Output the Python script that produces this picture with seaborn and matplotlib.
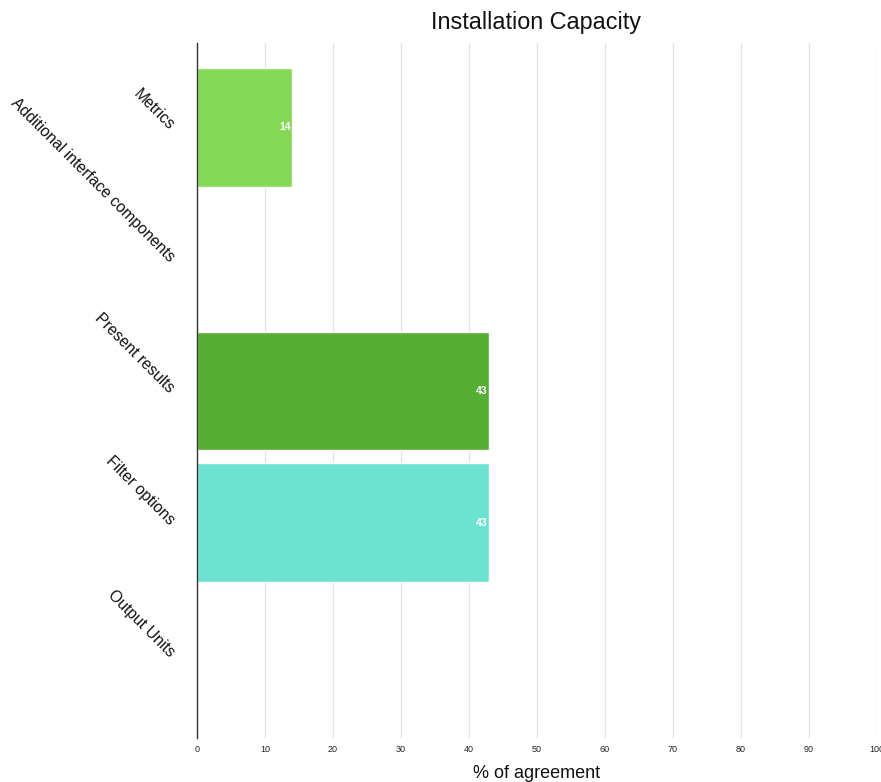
import matplotlib
matplotlib.use("Agg")
import matplotlib.pyplot as plt
import seaborn as sns
import pandas as pd

categories = ["Metrics", "Additional interface components", "Present results",
              "Filter options", "Output Units"]
values = [14, 0, 43, 43, 0]
colors = ["#86D957", "#86D957", "#57AE35", "#6CE3D0", "#6CE3D0"]
x_ticks = [0, 10, 20, 30, 40, 50, 60, 70, 80, 90, 100]

sns.set_theme(style="white")
plt.rcParams["font.family"] = ["Liberation Sans", "DejaVu Sans"]

df = pd.DataFrame({"category": categories, "value": values})

fig = plt.figure(figsize=(8.81, 7.82), dpi=100)
ax = fig.add_axes([197 / 881, 1 - 738 / 782, (877 - 197) / 881, (738 - 43) / 782])

sns.barplot(data=df, y="category", x="value", hue="category",
            palette=dict(zip(categories, colors)), orient="h", saturation=1,
            width=0.9, legend=False, ax=ax, zorder=2)

ax.set_xlim(0, 100)
ax.set_ylim(4.635, -0.64)
ax.set_xticks(x_ticks)
ax.set_xticklabels([str(t) for t in x_ticks], fontsize=6.5, color="#222222")
ax.tick_params(axis="x", length=0, pad=5)
ax.tick_params(axis="y", length=0, pad=18)
ax.grid(axis="x", color="#e2e2e2", linewidth=0.9, zorder=0)
ax.set_axisbelow(True)

for s in ["top", "right", "bottom"]:
    ax.spines[s].set_visible(False)
ax.spines["left"].set_color("#333333")
ax.spines["left"].set_linewidth(1.0)

ax.set_yticks(range(len(categories)))
ax.set_yticklabels(categories, rotation=-45, ha="right", va="center",
                   rotation_mode="anchor", fontsize=11.3, color="#111111")

for i, v in enumerate(values):
    if v > 0:
        ax.text(v - 0.25, i, str(v), ha="right", va="center", color="white",
                fontsize=7.5, fontweight="semibold")

ax.set_xlabel("% of agreement", fontsize=13, labelpad=8, color="#111111")
ax.set_ylabel("")
fig.text(536 / 881, 1 - 22 / 782, "Installation Capacity", ha="center",
         va="center", fontsize=16.8, color="#111111")

fig.savefig("out.png", dpi=100, facecolor="white")
